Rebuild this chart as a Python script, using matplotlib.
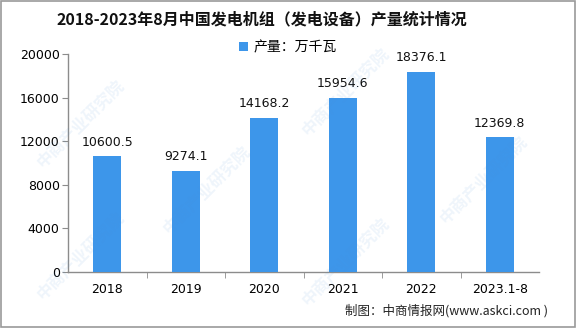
import matplotlib
matplotlib.use("Agg")
import matplotlib.pyplot as plt
import numpy as np

plt.rcParams['font.family'] = ['Noto Sans CJK SC', 'DejaVu Sans']

years = ['2018', '2019', '2020', '2021', '2022', '2023.1-8']
output = [10600.5, 9274.1, 14168.2, 15954.6, 18376.1, 12369.8]
yticks = [0, 4000, 8000, 12000, 16000, 20000]

title = '2018-2023年8月中国发电机组（发电设备）产量统计情况'
legend_label = '产量：万千瓦'
source = '制图：中商情报网(www.askci.com )'
watermark = '中商产业研究院'

bar_color = '#3d96ea'
axis_color = '#8c8c8c'

fig = plt.figure(figsize=(5.76, 3.28), dpi=100)
ax = fig.add_axes([68 / 576, 1 - 272 / 328, 471 / 576, 218 / 328])

x = np.arange(len(years))
ax.bar(x, output, width=0.36, color=bar_color, label=legend_label, zorder=3)

# value labels above each bar
for xi, v in zip(x, output):
    ax.text(xi, v + 700, f'{v:.1f}', ha='center', va='bottom',
            fontsize=9, family='DejaVu Sans', color='#111111', zorder=4)

ax.set_xlim(-0.5, len(years) - 0.5)
ax.set_ylim(0, 20000)
ax.set_yticks(yticks)
ax.set_yticklabels([str(t) for t in yticks], fontsize=9, family='DejaVu Sans')
ax.set_xticks(x)
ax.set_xticklabels(years, fontsize=9, family='DejaVu Sans')
ax.tick_params(axis='x', length=0, pad=8)
ax.tick_params(axis='y', length=4, color=axis_color, pad=2)
ax.set_xticks(np.arange(0.5, len(years) - 1, 1), minor=True)
ax.tick_params(axis='x', which='minor', length=4, color=axis_color)

for side in ['top', 'right']:
    ax.spines[side].set_visible(False)
for side in ['left', 'bottom']:
    ax.spines[side].set_color(axis_color)
    ax.spines[side].set_linewidth(1)

ax.legend(loc='upper center', bbox_to_anchor=(0.467, 1.12), frameon=False,
          fontsize=10, handlelength=0.7, handleheight=0.7, handletextpad=0.4)

fig.text(262 / 576, 1 - 19 / 328, title, ha='center', va='center',
         fontsize=11.5, fontweight='bold', color='#111111')
fig.text(345 / 576, 1 - 311 / 328, source, ha='left', va='center',
         fontsize=9, color='#222222')

# faint diagonal watermark
for wx, wy in [(0.14, 0.62), (0.36, 0.42), (0.6, 0.72), (0.84, 0.45), (0.14, 0.22), (0.6, 0.2)]:
    fig.text(wx, wy, watermark, rotation=45, fontsize=12, color='#4a90d9',
             alpha=0.09, ha='center', va='center', fontweight='bold', zorder=0)

# outer frame
fig.patches.append(plt.Rectangle((0.001, 0.003), 0.997, 0.995, transform=fig.transFigure,
                                 fill=False, edgecolor='#9a9a9a', linewidth=1.2))

fig.savefig('out.png', dpi=100)
